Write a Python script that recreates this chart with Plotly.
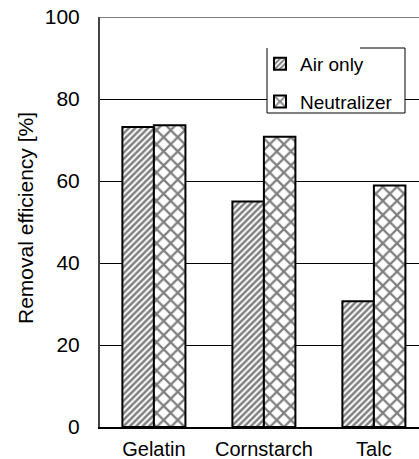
import plotly.graph_objects as go

categories = ["Gelatin", "Cornstarch", "Talc"]
air_only = [73.2, 55.0, 30.7]
neutralizer = [73.6, 70.8, 58.9]
series_names = ["Air only", "Neutralizer"]
y_ticks = [0, 20, 40, 60, 80, 100]
y_title = "Removal efficiency [%]"

FONT = "Arial, Liberation Sans, sans-serif"

fig = go.Figure()
fig.add_trace(go.Bar(
    x=categories, y=air_only, name=series_names[0], legendgroup="a",
    marker=dict(color="white", line=dict(color="black", width=2),
                pattern=dict(shape="/", fgcolor="black", bgcolor="white", size=4.5, solidity=0.55)),
))
fig.add_trace(go.Bar(
    x=categories, y=neutralizer, name=series_names[1], legendgroup="b",
    marker=dict(color="white", line=dict(color="black", width=2),
                pattern=dict(shape="x", fgcolor="black", bgcolor="white", size=10, solidity=0.4)),
))

W, H = 419, 459
L, R, T, B = 100, 0, 17, 32
pw, ph = W - L - R, H - T - B

def px_x(px):
    return (px - L) / pw

def px_y(py):
    return (H - B - py) / ph

# legend box (white background + borders, partial top line)
bx0, bx1 = px_x(267), px_x(405)
by0, by1 = px_y(113), px_y(48)
shapes = [
    dict(type="rect", xref="paper", yref="paper", x0=bx0, x1=bx1, y0=by0, y1=by1,
         fillcolor="white", line=dict(width=0), layer="above"),
    dict(type="line", xref="paper", yref="paper", x0=bx0, x1=bx0, y0=by0, y1=by1,
         line=dict(color="black", width=1), layer="above"),
    dict(type="line", xref="paper", yref="paper", x0=bx1, x1=bx1, y0=by0, y1=by1,
         line=dict(color="black", width=1), layer="above"),
    dict(type="line", xref="paper", yref="paper", x0=bx0, x1=bx1, y0=by0, y1=by0,
         line=dict(color="black", width=1), layer="above"),
    dict(type="line", xref="paper", yref="paper", x0=px_x(360), x1=bx1, y0=by1, y1=by1,
         line=dict(color="black", width=1), layer="above"),
    # top border at 100
    dict(type="line", xref="paper", yref="y", x0=0, x1=1, y0=100, y1=100,
         line=dict(color="black", width=1), layer="below"),
]

fig.update_layout(
    width=W, height=H,
    margin=dict(l=L, r=R, t=T, b=B, pad=0, autoexpand=False),
    paper_bgcolor="white", plot_bgcolor="white",
    barmode="group", bargap=0.427, bargroupgap=0,
    font=dict(family=FONT, color="black", size=21),
    showlegend=True,
    legend=dict(x=px_x(260), y=px_y(45), xanchor="left", yanchor="top",
                bgcolor="rgba(0,0,0,0)", borderwidth=0,
                font=dict(size=19, family=FONT, color="black"),
                traceorder="grouped", tracegroupgap=10, itemwidth=30),
    shapes=shapes,
    annotations=[dict(text=y_title, xref="paper", yref="paper",
                      x=px_x(25), y=px_y(218), xanchor="center", yanchor="middle",
                      textangle=-90, showarrow=False,
                      font=dict(size=21, family=FONT, color="black"))],
)
fig.update_xaxes(range=[-0.49, 2.41], showline=True, linecolor="black", linewidth=1.5,
                 ticks="", showgrid=False, tickfont=dict(size=20), ticklabelstandoff=3,
                 zeroline=False, fixedrange=True, automargin=False)
fig.update_yaxes(range=[0, 100], tickvals=y_ticks, showline=True, linecolor="#444", linewidth=2,
                 showgrid=True, gridcolor="black", gridwidth=1, ticks="",
                 tickfont=dict(size=21), ticklabelstandoff=14, zeroline=False, fixedrange=True,
                 automargin=False)

fig.write_html("out.html", config={"displayModeBar": False})

with open("out.html", "r", encoding="utf-8") as f:
    html = f.read()
html = html.replace("<head>", "<head><style>html,body{margin:0;padding:0;overflow:hidden;}</style>", 1)
with open("out.html", "w", encoding="utf-8") as f:
    f.write(html)
